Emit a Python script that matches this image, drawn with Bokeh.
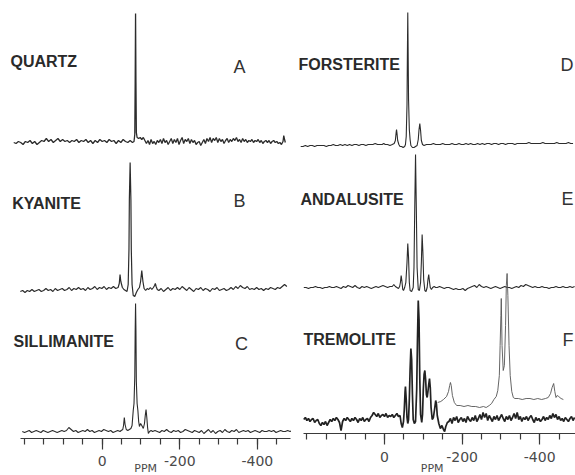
import numpy as np
from bokeh.plotting import figure
from bokeh.models import Range1d, FixedTicker, Label
from bokeh.layouts import row
from bokeh.embed import file_html
from bokeh.resources import INLINE

# ---------------- data (chemical shift in ppm, intensity in arbitrary units) ----------------
tick_major = [0, -200, -400]
tick_minor = [200, 150, 100, 50, 0, -50, -100, -150, -200, -250, -300, -350, -400, -450]
tick_labels = {0: "0", -200: "-200", -400: "-400"}

quartz_ppm = list(range(228, -79, -6)) + [-82, -84, -85, -86, -87, -88, -90] + list(range(-94, -467, -4)) + [-468, -470, -472]
quartz_int = [0, -1, 1, 0, -2, 1, 0, 2, -1, 1, -2, 0, 2, 1, 4, 1, 3, 0, 2, 4,
              1, 3, 1, 2, 0, 2, 1, 3, 0, 2, 1, 3, 0, 2, -1, 2, 0, 3, 1, 2,
              0, 3, 1, 2, -1, 2, 0, 3, 1, 0, 2, 0,
              1, 8, 60, 129, 60, 10, 5,
              4, 5, 3, 5, 2, -1, 2, -2, 3, -1, 1, -2, 2, 0, 3, -1, 4, 0, 2, -2,
              1, 4, -1, 3, 0, 4, -2, 2, 5, -1, 3, 1, 4, -1, 3, 0, 2, -2, 0, 1,
              -3, 0, 3, -1, 4, 1, 5, 0, 4, 2, 5, 0, 4, 1, 3, -1, 2, 4, 0, 3,
              1, 4, 2, 5, 1, 3, 0, 4, 1, 3, 0, 2, 1, 3, 0, 2, 1, 3, 0, 2,
              -1, 1, 2, 0, 2, -1, 1, 2, 0, 1, -1, 0, -2, 1,
              7, 3, 0]

kyanite_ppm = list(range(211, -42, -6)) + [-44, -46, -48, -52, -56, -60, -64, -67, -69, -70, -72, -74, -75, -77, -80, -84, -88, -92, -96, -99, -102, -105, -108, -112, -116, -120, -124, -128, -132, -135, -137, -139, -142] + list(range(-146, -481, -6))
kyanite_int = [-2, -1, -3, -1, -2, 0, -2, -1, 0, -2, -1, 1, -1, 0, -2, 1, -1, 0, 1, -1,
               0, 2, -1, 1, 0, 2, 0, 1, -1, 2, 0, 1, 3, 0, 2, 1, 3, 0, 2, 1, 3, 1, 2,
               6, 15, 8, 2, 0, -1, -2, 5, 40, 90, 127, 90, 40, 5, -6, -7, -3, 0, 2, 8, 19, 8, 1, -1, 1, 0, 2, 0, 2, 4, 6, 3, 0,
               -1, 1, -2, 0, 2, -1, 1, 0, 2, 0, 3, 1, -1, 2, 0, -2, 1, 0, 2, -1,
               1, 0, -2, 1, 0, 2, -1, 0, 1, -1, 0, 2, 0, 3, 1, 4, 2, 1, 3, 0,
               1, 0, 2, 0, 1, -1, 1, 0, 2, 1, 0, 2, 1, 3, 5, 3]

sillimanite_ppm = list(range(206, -49, -6)) + [-49, -53, -55, -57, -59, -62, -66, -70, -74, -77, -80, -82, -84, -85, -86, -87, -88, -90, -92, -94, -96, -99, -102, -106, -109, -111, -113, -115, -117, -119, -122, -126, -130] + list(range(-136, -491, -6))
sillimanite_int = [0, -1, 0, 1, -1, 0, 1, 0, -1, 1, 0, -1, 0, 1, 0, -1, 0, 1, 0, 1,
                   4, 2, 0, 1, -1, 0, 1, 0, 2, 0, 1, -1, 0, 1, 0, 2, 1, 0, 1, -1, 0, 1, 0,
                   1, 2, 6, 14, 7, 2, 1, 2, 3, 6, 21, 28, 55, 100, 128, 100, 50, 28, 21, 10, 5, 8, 6, 3, 8, 16, 22, 14, 4, -2, 0, 1, 0,
                   1, 0, -1, 1, 0, 2, 0, -1, 1, 0, 1, -1, 0, 2, 1, 0, -1, 1, 0, -1,
                   1, -2, 0, 2, -1, 1, -2, 0, 1, -1, 2, 0, -1, 1, 0, 2, -1, 0, 1, 0,
                   1, -1, 0, 1, 0, -1, 1, 0, 0, 1, 0, 1, -1, 0, 1, 0, 0, 1, 0, 1]

forsterite_ppm = list(range(216, 6, -6)) + [6, 2, -2, -8, -14, -20, -25, -28, -30, -31, -32, -34, -37, -40, -44, -48, -52, -54, -56, -58, -59, -60, -61, -62, -64, -66, -68, -72, -76, -80, -84, -87, -89, -91, -93, -95, -98, -102, -108, -114, -120, -126, -132] + list(range(-138, -492, -6))
forsterite_int = [-2, -2, -1, -2, -1, -1, -2, -1, -1, -1, -1, -2, -1, -1, 0, -1, -1, 0, -1, 0,
                  -1, 0, -1, 0, 0, -1, 0, 0, -1, 0, 0, 0, 1, 0, 0,
                  0, 1, 0, 0, -1, 0, 1, 4, 12, 15, 12, 4, 0, -2, -2, -3, -2, 0, 8, 40, 90, 132, 90, 45, 15, 5, -1, -3, -3, -2, -1, 5, 15, 21, 14, 4, 0, -1, 0, 0, 0, 1, 0,
                  0, 0, 1, 0, 0, 0, 1, 0, 0, 1, 0, 0, 1, 0, 1, 0, 0, 1, 0, 1,
                  0, 1, 1, 0, 1, 1, 0, 1, 1, 0, 1, 1, 1, 0, 1, 1, 1, 1, 1, 2,
                  1, 1, 1, 1, 1, 2, 1, 1, 1, 1, 1, 2, 1, 1, 1, 1, 2, 1, 1]

andalusite_ppm = list(range(208, -20, -6)) + [-20, -24, -28, -32, -36, -39, -41, -43, -45, -47, -49, -52, -55, -58, -60, -62, -64, -66, -70, -74, -76, -78, -80, -82, -84, -87, -90, -93, -95, -97, -99, -101, -104, -107, -110, -112, -114, -116, -118, -121, -124, -128, -132] + list(range(-136, -492, -6))
andalusite_int = [0, 0, -1, 0, 0, 1, 0, 0, -1, 0, 0, 1, 0, 0, 1, 0, -1, 1, 0, 2,
                  1, 0, 2, 0, -1, 1, 0, 1, 0, -1, 0, 1, 0, 1, 2, 1, 0, 1,
                  1, 3, 1, 0, -1, 1, 5, 12, 6, -2, -3, 0, 5, 25, 44, 30, 5, -3, -4, 0, 20, 80, 133, 80, 20, -2, -3, 5, 25, 53, 35, 8, -3, -4, 0, 8, 13, 6, 0, -2, 0, 1, 0,
                  0, 1, 0, -1, 0, 0, -1, -2, -1, -2, -2, -1, -3, -1, 0, 1, 2, 0, 3, 1,
                  0, 1, 0, -1, 0, 1, 0, -1, 0, 1, 0, 0, -1, 0, 1, 0, 2, 1, 3, 2,
                  1, 0, 1, 0, 0, 1, 0, 0, -1, 0, 0, 1, 0, 0, 1, 0, 0, 1, 0, 1]

tremolite_ppm = list(range(208, 36, -4)) + list(range(36, -44, -4)) + [-43, -46, -49, -51, -53, -54, -56, -58, -60, -62, -64, -66, -68, -70, -72, -74, -77, -80, -83, -85, -87, -89, -91, -93, -96, -98, -100, -102, -104, -106, -108, -110, -112, -114, -116, -118, -120, -123, -126, -129, -132, -134, -136, -140, -144, -148, -152, -155, -158, -162] + list(range(-166, -494, -4))
tremolite_int = [0, 2, -1, 1, -2, 0, 1, -3, -1, 0, -4, -6, -3, -5, -2, -6, -3, 0, -2, 1,
                 -1, 2, 0, -3, -11, -2, 1, -1, 2, 0, -2, 1, -1, 2, 0, -3, 1, -1, 2, -2, 0, 1, -2,
                 2, 4, 7, 5, 3, 6, 2, 4, 5, 3, 6, 2, 4, 3, 5, 2, 4, 6, 3, 4,
                 -4, -8, -2, 10, 28, 33, 20, 2, -4, 0, 20, 50, 71, 60, 25, 0, -4, -2, 30, 80,
                 119, 100, 40, 5, -3, 5, 30, 45, 49, 40, 25, 22, 28, 35, 41, 32, 12, 0, 2, 10,
                 19, 15, 4, -4, -9, -6, -10, -12, -7, -3,
                 -2, 1, -4, 2, -1, 3, -3, 0, 2, -2, 1, -3, 3, 0, -2, 2, -1, 4, -2, 1,
                 5, 0, 7, 2, 6, -1, 4, 1, -2, 3, 0, 4, -1, 2, 5, 1, -2, 3, 0, 4,
                 -1, 2, 6, 1, 7, 0, 3, -2, 2, 0, 3, -1, 2, 4, 0, -3, 2, -1, 1, -2,
                 0, 3, -1, 2, 0, 4, 1, 6, 2, 5, 0, 3, -1, 1, -2, 2, 0, -2, 1, 3, -1, 2]

tremolite_exp_ppm = [-137, -145, -152, -160, -165, -168, -170, -172, -175, -180, -186, -195, -205, -215, -225, -235, -245, -255, -262, -270, -276, -282, -288, -292, -296, -298, -300, -301, -303, -306, -309, -312, -314, -316, -318, -321, -324, -328, -332, -336, -345, -355, -365, -375, -385, -395, -405, -415, -422, -428, -432, -436, -439, -442, -445, -449, -455, -461]
tremolite_exp_int = [3, 4, 6, 9, 14, 20, 23, 20, 10, 3, 0, 0, -1, 0, -1, -1, -2, -1, -2, 0,
                     2, 6, 9, 15, 30, 60, 90, 107, 60, 35, 40, 80, 120, 132, 110, 60, 30, 14, 8, 7,
                     7, 6, 7, 7, 6, 7, 6, 7, 8, 12, 18, 22, 14, 8, 10, 9, 7, 6]

for a, b in [(quartz_ppm, quartz_int), (kyanite_ppm, kyanite_int), (sillimanite_ppm, sillimanite_int),
             (forsterite_ppm, forsterite_int), (andalusite_ppm, andalusite_int),
             (tremolite_ppm, tremolite_int), (tremolite_exp_ppm, tremolite_exp_int)]:
    assert len(a) == len(b), (len(a), len(b))

# ---------------- layout / style ----------------
H = 475
INK = "#2c2c2c"


def make_panel(width, xr, yr, axis_bounds, label_standoff):
    p = figure(width=width, height=H, x_range=Range1d(*xr), y_range=Range1d(*yr),
               output_backend="svg", toolbar_location=None, y_axis_location=None,
               min_border=0)
    p.grid.visible = False
    p.outline_line_color = None
    p.background_fill_color = "white"
    p.border_fill_color = "white"
    ax = p.xaxis[0]
    ax.fixed_location = 0
    ax.ticker = FixedTicker(ticks=tick_major, minor_ticks=tick_minor)
    ax.major_label_overrides = tick_labels
    ax.bounds = axis_bounds
    ax.axis_line_color = "#3a3a3a"
    ax.axis_line_width = 1.2
    ax.major_tick_line_color = "#3a3a3a"
    ax.minor_tick_line_color = "#3a3a3a"
    ax.major_tick_line_width = 1.2
    ax.minor_tick_line_width = 1.2
    ax.major_tick_in = 0
    ax.major_tick_out = 11
    ax.minor_tick_in = 0
    ax.minor_tick_out = 6
    ax.major_label_standoff = label_standoff
    ax.major_label_text_font = "DejaVu Sans"
    ax.major_label_text_font_size = "14px"
    ax.major_label_text_color = "#4a4a4a"
    return p


def name_label(p, x, y, text):
    p.add_layout(Label(x=x, y=y, text=text, text_font="Liberation Sans", text_font_style="bold",
                       text_font_size="16px", text_color="#2a2a2a", text_align="left",
                       text_baseline="middle"))


def letter_label(p, x, y, text, align):
    p.add_layout(Label(x=x, y=y, text=text, text_font="Liberation Sans",
                       text_font_size="18px", text_color="#333333", text_align=align,
                       text_baseline="middle"))


def unit_label(p, x, y):
    p.add_layout(Label(x=x, y=y, text="PPM", text_font="DejaVu Sans", text_font_size="11px",
                       text_color="#4a4a4a", text_align="center", text_baseline="bottom"))


# left column: quartz, kyanite, sillimanite
left = make_panel(291, (262.1, -487.9), (-37, 438), (-485, 210), 6)
left.line(quartz_ppm, np.array(quartz_int) + 296, line_color=INK, line_width=1.3)
left.line(kyanite_ppm, np.array(kyanite_int) + 149, line_color=INK, line_width=1.2)
left.line(sillimanite_ppm, np.array(sillimanite_int) + 7, line_color=INK, line_width=1.1)
name_label(left, 236.4, 377, "QUARTZ")
name_label(left, 232, 235, "KYANITE")
name_label(left, 228.6, 97, "SILLIMANITE")
letter_label(left, -354, 371.5, "A", "center")
letter_label(left, -354, 238, "B", "center")
letter_label(left, -359, 94.5, "C", "center")
unit_label(left, -112, -36)

# right column: forsterite, andalusite, tremolite
right = make_panel(284, (239.7, -492.3), (-42, 433), (-492, 209), 7)
right.line(forsterite_ppm, np.array(forsterite_int) + 289, line_color=INK, line_width=1.1)
right.line(andalusite_ppm, np.array(andalusite_int) + 146, line_color=INK, line_width=1.1)
right.line(tremolite_ppm, np.array(tremolite_int) + 14, line_color="#222222", line_width=1.7)
right.line(tremolite_exp_ppm, np.array(tremolite_exp_int) + 28, line_color="#555555", line_width=0.9)
name_label(right, 221.6, 369, "FORSTERITE")
name_label(right, 216.5, 234, "ANDALUSITE")
name_label(right, 208.8, 94, "TREMOLITE")
letter_label(right, -487, 368.5, "D", "right")
letter_label(right, -487, 234.5, "E", "right")
letter_label(right, -487, 94, "F", "right")
unit_label(right, -123, -41)

layout = row(left, right)
open("out.html", "w").write(file_html(layout, INLINE))
